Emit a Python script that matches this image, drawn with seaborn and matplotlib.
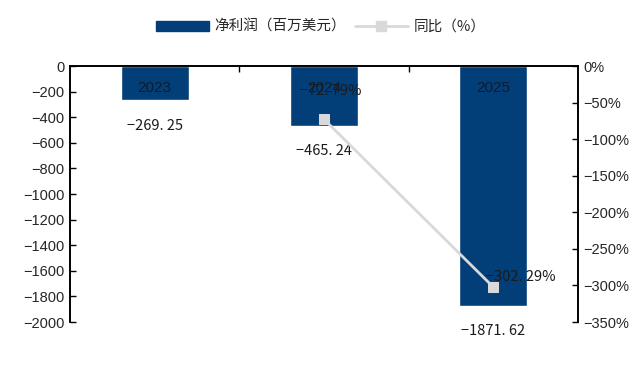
import matplotlib
matplotlib.use("Agg")
import matplotlib.pyplot as plt
import seaborn as sns
import pandas as pd
import numpy as np
from matplotlib.patches import Patch
from matplotlib.lines import Line2D
from matplotlib.ticker import FuncFormatter

years = ["2023", "2024", "2025"]
net_profit = [-269.25, -465.24, -1871.62]
yoy = [np.nan, -72.79, -302.29]
legend_labels = ["净利润（百万美元）", "同比（%）"]

sns.set_theme(style="white")
plt.rcParams['font.family'] = ['Liberation Sans', 'DejaVu Sans']
plt.rcParams['axes.unicode_minus'] = True

cjk = ['Noto Sans CJK SC', 'DejaVu Sans']
bar_color = "#023f78"
line_color = "#d9d9d9"

fig = plt.figure(figsize=(6.42, 3.67), dpi=100)
ax = fig.add_axes([70/642, 1-322/367, 508/642, 256/367])

df = pd.DataFrame({"year": years, "profit": net_profit, "yoy": yoy})
sns.barplot(data=df, x="year", y="profit", color=bar_color, width=0.4,
            saturation=1, ax=ax)
ax.set_ylim(-2000, 0)
ax.set_yticks(np.arange(-2000, 1, 200))
ax.set_xlim(-0.5, 2.5)
ax.set_xlabel("")
ax.set_ylabel("")
ax.set_xticks([])
ax.set_xticks([0.5, 1.5], minor=True)
ax.tick_params(axis='x', which='minor', top=True, bottom=False, direction='in',
               length=4, width=1, color='black')
ax.tick_params(axis='y', direction='in', length=4, width=1, color='black',
               left=True, labelsize=10.5, pad=4)
for s in ['left', 'right', 'top']:
    ax.spines[s].set_visible(True)
    ax.spines[s].set_color('black')
    ax.spines[s].set_linewidth(1.2)
ax.spines['bottom'].set_visible(False)

for i, (yr, v) in enumerate(zip(years, net_profit)):
    ax.text(i, -170, yr, ha='center', va='center', fontsize=11,
            color='#111a2a')
    ax.text(i, v - 200, f"{v:.2f}".replace("-", "−").replace(".", ". "),
            ha='center', va='center', fontsize=10.5, family=cjk, color='#1a1a1a')

ax2 = ax.twinx()
xs = np.arange(len(years))
sns.lineplot(x=xs, y=yoy, ax=ax2, color=line_color, linewidth=2,
             marker='s', markersize=7, markeredgecolor=line_color,
             markerfacecolor=line_color)
ax2.set_ylim(-350, 0)
ax2.set_yticks(np.arange(-350, 1, 50))
ax2.yaxis.set_major_formatter(FuncFormatter(lambda v, p: f"{int(v)}%".replace("-", "−")))
ax2.tick_params(axis='y', direction='in', length=4, width=1, color='black',
                right=True, labelsize=10.5, pad=4)
ax2.set_xlim(-0.5, 2.5)
for s in ['left', 'right', 'top']:
    ax2.spines[s].set_visible(True)
    ax2.spines[s].set_color('black')
    ax2.spines[s].set_linewidth(1.2)
ax2.spines['bottom'].set_visible(False)
ax2.grid(False)
ax.grid(False)

label_dx = [0, 0.04, 0.16]
label_dy = [0, 38, 14]
for i, v in enumerate(yoy):
    if not np.isnan(v):
        ax2.text(i + label_dx[i], v + label_dy[i],
                 f"{v:.2f}%".replace("-", "−").replace(".", ". "), ha='center',
                 va='center', fontsize=10.5, family=cjk, color='#1a1a1a')

handles = [Patch(facecolor=bar_color, edgecolor=bar_color),
           Line2D([0], [0], color=line_color, linewidth=2, marker='s',
                  markersize=7, markerfacecolor=line_color, markeredgecolor=line_color)]
fig.legend(handles, legend_labels, loc='center', bbox_to_anchor=(0.5, 1-27/367),
           ncol=2, frameon=False, prop={'family': cjk, 'size': 10.5},
           handlelength=3.6, handletextpad=0.4, columnspacing=0.6)

fig.savefig("out.png", dpi=100)
